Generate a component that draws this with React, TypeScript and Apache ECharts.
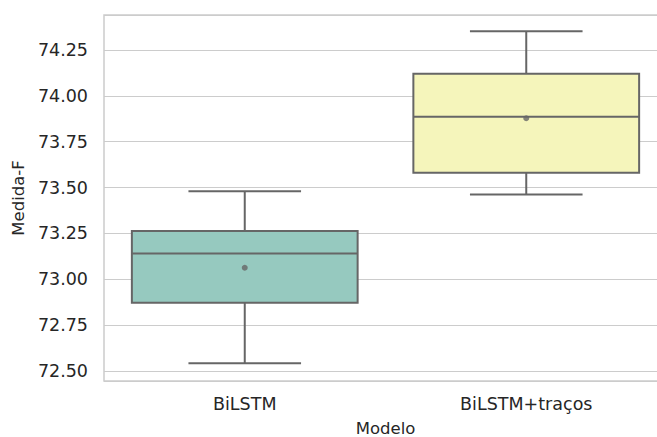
import React, { useEffect, useRef } from "react";
import * as echarts from "echarts";

const categories = ["BiLSTM", "BiLSTM+traços"];
// [min whisker, Q1, median, Q3, max whisker]
const boxStats = [
  [72.542, 72.872, 73.141, 73.263, 73.48],
  [73.463, 73.581, 73.886, 74.121, 74.352],
];
const means = [73.063, 73.878];
const boxColors = ["#96c9bf", "#f5f5bb"];
const edgeColor = "#666666";
const textColor = "#262626";

export default function App() {
  const ref = useRef<HTMLDivElement>(null);
  useEffect(() => {
    if (!ref.current) return;
    const chart = echarts.init(ref.current, undefined, { renderer: "svg" });
    const boxData = boxStats.map((s, i) => [i, ...s]);
    const meanData = means.map((m, i) => [i, m]);
    chart.setOption({
      animation: false,
      backgroundColor: "#ffffff",
      grid: {
        left: 104,
        right: 0,
        top: 15,
        bottom: 56,
        outerBoundsMode: "none",
        containLabel: false,
        show: true,
        borderColor: "#cccccc",
        borderWidth: 1.5,
      },
      xAxis: {
        type: "category",
        data: categories,
        boundaryGap: true,
        axisLine: { show: false },
        axisTick: { show: false },
        splitLine: { show: false },
        axisLabel: {
          fontFamily: "DejaVu Sans",
          fontSize: 17.5,
          color: textColor,
          margin: 14,
        },
        name: "Modelo",
        nameLocation: "middle",
        nameGap: 39,
        nameTextStyle: {
          fontFamily: "DejaVu Sans",
          fontSize: 16.5,
          color: textColor,
        },
      },
      yAxis: {
        type: "value",
        min: 72.4455,
        max: 74.441,
        minInterval: 0.25,
        maxInterval: 0.25,
        axisLine: { show: false },
        axisTick: { show: false },
        splitLine: { show: true, lineStyle: { color: "#cccccc", width: 1.2 } },
        axisLabel: {
          fontFamily: "DejaVu Sans",
          fontSize: 17.5,
          color: textColor,
          margin: 16,
          showMinLabel: false,
          showMaxLabel: false,
          formatter: (v: number) => v.toFixed(2),
        },
        name: "Medida-F",
        nameLocation: "middle",
        nameGap: 76,
        nameTextStyle: {
          fontFamily: "DejaVu Sans",
          fontSize: 16.5,
          color: textColor,
        },
      },
      series: [
        {
          type: "custom",
          data: boxData,
          encode: { x: 0, y: [1, 2, 3, 4, 5] },
          renderItem: (params: any, api: any) => {
            const x = api.value(0);
            const pMin = api.coord([x, api.value(1)]);
            const pQ1 = api.coord([x, api.value(2)]);
            const pMed = api.coord([x, api.value(3)]);
            const pQ3 = api.coord([x, api.value(4)]);
            const pMax = api.coord([x, api.value(5)]);
            const band = api.size([1, 0])[0];
            const bw = band * 0.802;
            const cw = band * 0.4;
            const cx = pMed[0];
            const ls = { stroke: edgeColor, lineWidth: 2, fill: null };
            return {
              type: "group",
              children: [
                { type: "line", shape: { x1: cx, y1: pQ3[1], x2: cx, y2: pMax[1] }, style: ls },
                { type: "line", shape: { x1: cx, y1: pQ1[1], x2: cx, y2: pMin[1] }, style: ls },
                { type: "line", shape: { x1: cx - cw / 2, y1: pMax[1], x2: cx + cw / 2, y2: pMax[1] }, style: ls },
                { type: "line", shape: { x1: cx - cw / 2, y1: pMin[1], x2: cx + cw / 2, y2: pMin[1] }, style: ls },
                {
                  type: "rect",
                  shape: { x: cx - bw / 2, y: pQ3[1], width: bw, height: pQ1[1] - pQ3[1] },
                  style: { fill: boxColors[params.dataIndex], stroke: edgeColor, lineWidth: 2 },
                },
                { type: "line", shape: { x1: cx - bw / 2, y1: pMed[1], x2: cx + bw / 2, y2: pMed[1] }, style: ls },
              ],
            };
          },
          z: 2,
        },
        {
          type: "scatter",
          data: meanData,
          symbol: "circle",
          symbolSize: 6,
          itemStyle: { color: edgeColor },
          z: 3,
        },
      ],
    });
    return () => chart.dispose();
  }, []);
  return (
    <div
      style={{
        position: "absolute",
        left: 0,
        top: 0,
        width: 657,
        height: 437,
        overflow: "hidden",
        background: "#ffffff",
      }}
    >
      <div ref={ref} style={{ width: 667, height: 437 }} />
    </div>
  );
}
